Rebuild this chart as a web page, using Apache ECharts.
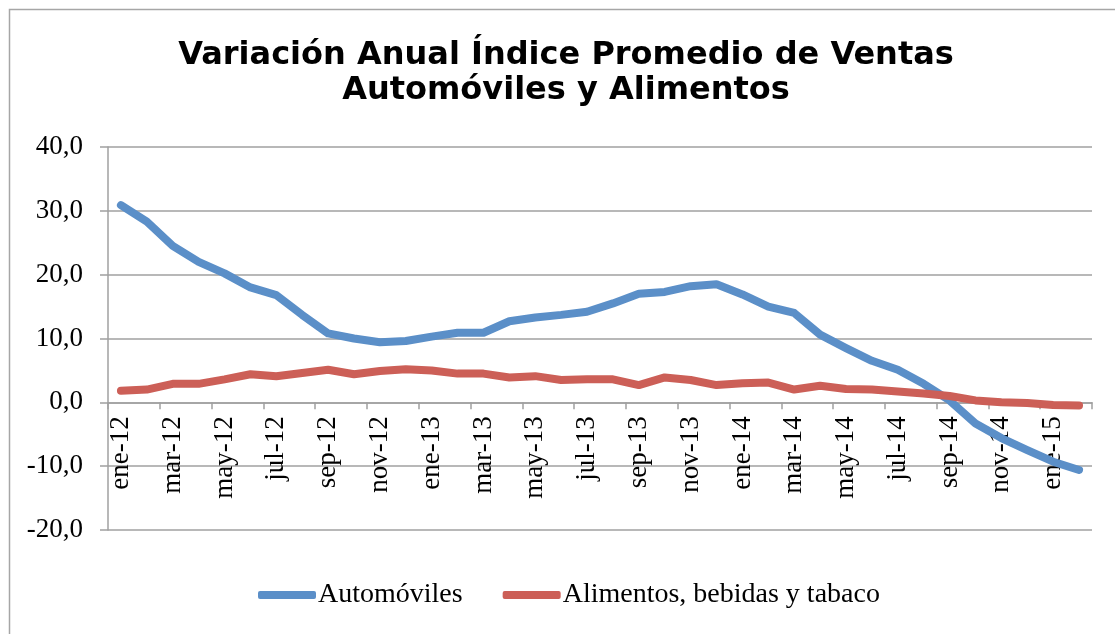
<!DOCTYPE html>
<html>
<head>
<meta charset="utf-8">
<script src="https://cdn.jsdelivr.net/npm/echarts@6/dist/echarts.min.js"></script>
<style>
html,body{margin:0;padding:0;background:#fff;}
#chart{width:1115px;height:634px;}
</style>
</head>
<body>
<div id="chart"></div>
<script>
const months = ['ene','feb','mar','abr','may','jun','jul','ago','sep','oct','nov','dic'];
const categories = [];
for (let y = 12; y <= 15; y++) {
  for (let m = 0; m < 12; m++) {
    if (y === 15 && m > 1) break;
    categories.push(months[m] + '-' + y);
  }
}
const automoviles = [30.9, 28.3, 24.5, 22.0, 20.2, 18.0, 16.8, 13.7, 10.8, 10.0, 9.4, 9.6,
  10.3, 10.9, 10.9, 12.7, 13.3, 13.7, 14.2, 15.5, 17.0, 17.3, 18.2, 18.5,
  16.9, 15.0, 14.0, 10.6, 8.5, 6.5, 5.1, 2.9, 0.3, -3.3, -5.6, -7.5, -9.3, -10.6];
const alimentos = [1.8, 2.0, 2.9, 2.9, 3.6, 4.4, 4.1, 4.6, 5.1, 4.4, 4.9, 5.2,
  5.0, 4.5, 4.5, 3.9, 4.1, 3.5, 3.6, 3.6, 2.7, 3.9, 3.5, 2.7,
  3.0, 3.1, 2.0, 2.6, 2.1, 2.0, 1.7, 1.4, 1.0, 0.3, 0.0, -0.1, -0.4, -0.5];
const yTicks = {min: -20, max: 40, step: 10};
const titleLines = ['Variación Anual Índice Promedio de Ventas', 'Automóviles y Alimentos'];
const seriesNames = ['Automóviles', 'Alimentos, bebidas y tabaco'];

const serif = '"Liberation Serif", "DejaVu Serif", serif';
const gridTop = 147, gridBottom = 104, H = 634;
const gridH = H - gridTop - gridBottom;
// move the category axis up to the zero line
const zeroOffset = -gridH * (0 - yTicks.min) / (yTicks.max - yTicks.min);

const chart = echarts.init(document.getElementById('chart'), null, {renderer: 'canvas'});
chart.setOption({
  backgroundColor: '#fff',
  animation: false,
  graphic: [
    {type: 'rect', left: 7, top: 7, shape: {width: 1200, height: 700}, style: {fill: 'none', stroke: '#a6a6a6', lineWidth: 1.5}, silent: true, z: -1},
    {type: 'text', x: 566, y: 38, style: {text: titleLines.join('\n'), font: 'bold 32px "DejaVu Sans", Verdana, sans-serif', fill: '#000', align: 'center', verticalAlign: 'top', lineHeight: 35}}
  ],
  grid: {left: 108, right: 23, top: gridTop, bottom: gridBottom, containLabel: false},
  legend: {
    data: seriesNames,
    top: 576,
    left: 253,
    icon: 'roundRect',
    itemWidth: 58,
    itemHeight: 8,
    itemGap: 40,
    textStyle: {fontFamily: serif, fontSize: 28, color: '#000', padding: [0,0,0,-3]}
  },
  xAxis: {
    type: 'category',
    data: categories,
    boundaryGap: true,
    position: 'bottom',
    offset: zeroOffset,
    axisLine: {onZero: false, lineStyle: {color: '#a0a0a0', width: 1.5}},
    axisTick: {show: true, interval: 1, length: 7, lineStyle: {color: '#a0a0a0', width: 1.5}},
    axisLabel: {interval: 1, rotate: 90, margin: 14, fontFamily: serif, fontSize: 27, color: '#000'},
    splitLine: {show: false}
  },
  yAxis: {
    type: 'value',
    min: yTicks.min, max: yTicks.max, interval: yTicks.step,
    axisLine: {show: true, lineStyle: {color: '#a0a0a0', width: 1.5}},
    axisTick: {show: true, length: 8, lineStyle: {color: '#a0a0a0', width: 1.5}},
    axisLabel: {margin: 25, fontFamily: serif, fontSize: 27, color: '#000', formatter: v => v.toFixed(1).replace('.', ',')},
    splitLine: {show: true, lineStyle: {color: '#a0a0a0', width: 1.5}}
  },
  series: [
    {name: seriesNames[0], type: 'line', data: automoviles, showSymbol: false, symbol: 'none', color: '#5b8fc8', lineStyle: {width: 8, color: '#5b8fc8', cap: 'round', join: 'round'}},
    {name: seriesNames[1], type: 'line', data: alimentos, showSymbol: false, symbol: 'none', color: '#cc5f57', lineStyle: {width: 8, color: '#cc5f57', cap: 'round', join: 'round'}}
  ]
});
</script>
</body>
</html>
